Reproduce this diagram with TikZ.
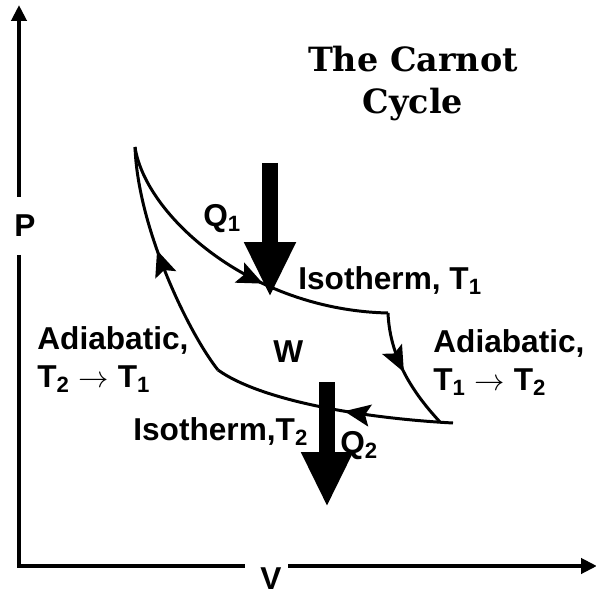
\documentclass[tikz,border=0pt]{standalone}
\usepackage{fontspec}
\setmainfont{Liberation Sans}
\newfontfamily\titlefont{DejaVu Serif}
\usetikzlibrary{arrows.meta,decorations.markings}

\begin{document}
\begin{tikzpicture}[
  x=0.02cm, y=-0.02cm,
  axis/.style={line width=2.3pt},
  axistip/.style={axis,-{Triangle[length=0.32cm,width=0.3cm]}},
  leg/.style={line width=1.7pt},
  heat/.style={-{Triangle[length=1.1cm,width=0.96cm]},line width=0.32cm},
  midarrow/.style={postaction={decorate},
    decoration={markings,mark=at position #1 with {\arrow{Stealth[length=0.52cm,width=0.44cm,inset=0.1cm]}}}},
  lab/.style={font=\fontsize{18}{22}\selectfont\bfseries,inner sep=0pt}
]
  \useasboundingbox (0,0) rectangle (595,597);

  % axes, broken where the letters sit
  \coordinate (O) at (19,566);
  \coordinate (pgaplow) at (19,255);
  \coordinate (pgaphigh) at (19,197);
  \coordinate (ptip) at (19,5);
  \coordinate (vgapleft) at (245,566);
  \coordinate (vgapright) at (288,566);
  \coordinate (vtip) at (597,566);
  \draw[axis] (pgaplow) -- (O) -- (vgapleft);
  \draw[axistip] (pgaphigh) -- (ptip);
  \draw[axistip] (vgapright) -- (vtip);
  \node[lab] (P) at (25,226) {P};
  \node[lab] (V) at (271,579) {V};

  % corners of the cycle
  \coordinate (a) at (135,147);
  \coordinate (b) at (388,313);
  \coordinate (c) at (440,422);
  \coordinate (cc) at (453,423);
  \coordinate (d) at (218,370);

  \draw[leg,midarrow=0.6] (a) .. controls (145,215) and (250,310) .. (b);
  \draw[leg,midarrow=0.5] (b) .. controls (390,360) and (415,395) .. (c);
  \draw[leg,midarrow=0.45] (cc) .. controls (360,418) and (260,400) .. (d);
  \draw[leg,midarrow=0.56] (d) .. controls (190,335) and (138,230) .. (a);

  % heat flows
  \coordinate (q1top) at (270,163);
  \coordinate (q1tip) at (270,297);
  \coordinate (q2top) at (327,382);
  \coordinate (q2tip) at (327,507);
  \draw[heat] (q1top) -- (q1tip);
  \draw[heat] (q2top) -- (q2tip);

  \node[lab,anchor=base west] (q1) at (203,227) {Q\textsubscript{1}};
  \node[lab,anchor=base west] (iso1) at (298,290) {Isotherm, T\textsubscript{1}};
  \node[lab,anchor=base west] (w) at (273,362) {W};
  \node[lab,anchor=north west,align=left] (adia1) at (433,329)
    {Adiabatic,\\T\textsubscript{1} $\rightarrow$ T\textsubscript{2}};
  \node[lab,anchor=north west,align=left] (adia2) at (37,326)
    {Adiabatic,\\T\textsubscript{2} $\rightarrow$ T\textsubscript{1}};
  \node[lab,anchor=base west] (iso2) at (133,440) {Isotherm,T\textsubscript{2}};
  \node[lab,anchor=base west] (q2) at (340,453) {Q\textsubscript{2}};

  \node[font=\titlefont\fontsize{19}{24}\selectfont\bfseries,align=center,
    anchor=north,inner sep=0pt] (title) at (413,46) {The Carnot\\Cycle};
\end{tikzpicture}
\end{document}
